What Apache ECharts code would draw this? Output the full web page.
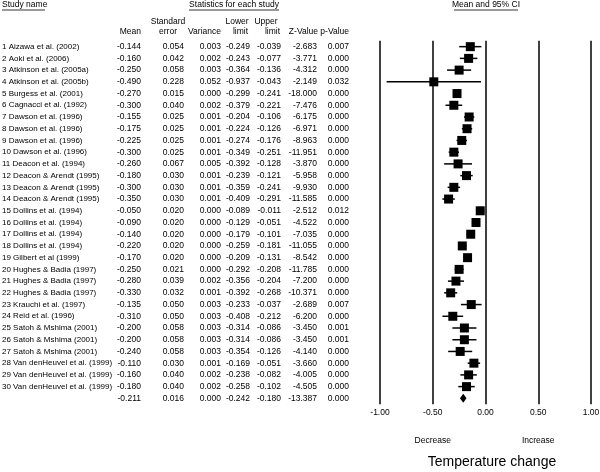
<!DOCTYPE html>
<html>
<head>
<meta charset="utf-8">
<script src="https://cdn.jsdelivr.net/npm/echarts@6/dist/echarts.min.js"></script>
<style>html,body{margin:0;padding:0;background:#fff}#c{width:600px;height:472px}</style>
</head>
<body>
<div id="c"></div>
<script>
const studyNames = [
 '1 Aizawa et al. (2002)','2 Aoki et al. (2006)','3 Atkinson et al. (2005a)','4 Atkinson et al. (2005b)',
 '5 Burgess et al. (2001)','6 Cagnacci et al. (1992)','7 Dawson et al. (1996)','8 Dawson et al. (1996)',
 '9 Dawson et al. (1996)','10 Dawson et al. (1996)','11 Deacon et al. (1994)','12 Deacon & Arendt (1995)',
 '13 Deacon & Arendt (1995)','14 Deacon & Arendt (1995)','15 Dollins et al. (1994)','16 Dollins et al. (1994)',
 '17 Dollins et al. (1994)','18 Dollins et al. (1994)','19 Gilbert et al (1999)','20 Hughes & Badia (1997)',
 '21 Hughes & Badia (1997)','22 Hughes & Badia (1997)','23 Krauchi et al. (1997)','24 Reid et al. (1996)',
 '25 Satoh & Mshima (2001)','26 Satoh & Mshima (2001)','27 Satoh & Mshima (2001)','28 Van denHeuvel et al. (1999)',
 '29 Van denHeuvel et al. (1999)','30 Van denHeuvel et al. (1999)',''
];
const means = [-0.144,-0.160,-0.250,-0.490,-0.270,-0.300,-0.155,-0.175,-0.225,-0.300,-0.260,-0.180,-0.300,-0.350,-0.050,-0.090,-0.140,-0.220,-0.170,-0.250,-0.280,-0.330,-0.135,-0.310,-0.200,-0.200,-0.240,-0.110,-0.160,-0.180,-0.211];
const stdErrs = [0.054,0.042,0.058,0.228,0.015,0.040,0.025,0.025,0.025,0.025,0.067,0.030,0.030,0.030,0.020,0.020,0.020,0.020,0.020,0.021,0.039,0.032,0.050,0.050,0.058,0.058,0.058,0.030,0.040,0.040,0.016];
const variances = [0.003,0.002,0.003,0.052,0.000,0.002,0.001,0.001,0.001,0.001,0.005,0.001,0.001,0.001,0.000,0.000,0.000,0.000,0.000,0.000,0.002,0.001,0.003,0.003,0.003,0.003,0.003,0.001,0.002,0.002,0.000];
const lowerLimits = [-0.249,-0.243,-0.364,-0.937,-0.299,-0.379,-0.204,-0.224,-0.274,-0.349,-0.392,-0.239,-0.359,-0.409,-0.089,-0.129,-0.179,-0.259,-0.209,-0.292,-0.356,-0.392,-0.233,-0.408,-0.314,-0.314,-0.354,-0.169,-0.238,-0.258,-0.242];
const upperLimits = [-0.039,-0.077,-0.136,-0.043,-0.241,-0.221,-0.106,-0.126,-0.176,-0.251,-0.128,-0.121,-0.241,-0.291,-0.011,-0.051,-0.101,-0.181,-0.131,-0.208,-0.204,-0.268,-0.037,-0.212,-0.086,-0.086,-0.126,-0.051,-0.082,-0.102,-0.180];
const zValues = [-2.683,-3.771,-4.312,-2.149,-18.000,-7.476,-6.175,-6.971,-8.963,-11.951,-3.870,-5.958,-9.930,-11.585,-2.512,-4.522,-7.035,-11.055,-8.542,-11.785,-7.200,-10.371,-2.689,-6.200,-3.450,-3.450,-4.140,-3.660,-4.005,-4.505,-13.387];
const pValues = [0.007,0.000,0.000,0.032,0.000,0.000,0.000,0.000,0.000,0.000,0.000,0.000,0.000,0.000,0.012,0.000,0.000,0.000,0.000,0.000,0.000,0.000,0.007,0.000,0.001,0.001,0.000,0.000,0.000,0.000,0.000];
const xTickValues = [-1, -0.5, 0, 0.5, 1];
const directionLabels = {'-0.5': 'Decrease', '0.5': 'Increase'};
const summaryIndex = 30;

const FONT = '"Liberation Sans", Arial, sans-serif';
const FS = 8.5;
const GL = 380, GW = 211, GT = 40.8, GH = 363.4;
const rowIds = studyNames.map((_, i) => String(i));

function colAxis(arr, rightX, fmt, align, fs) {
  return {
    type: 'category', gridIndex: 0, inverse: true, data: rowIds, position: 'left',
    offset: GL - rightX,
    axisLine: {show: false}, axisTick: {show: false}, splitLine: {show: false},
    axisLabel: {
      interval: 0, margin: 0, align: align || 'right', color: '#000', fontSize: fs || FS, fontFamily: FONT,
      padding: [3, 0, 0, 0], hideOverlap: false,
      formatter: (v, i) => fmt(arr[i])
    }
  };
}
const f3 = v => v.toFixed(3);

const chart = echarts.init(document.getElementById('c'), null, {renderer: 'canvas'});

const hdr = (text, x, y, align) => ({
  type: 'text', x: x, y: y,
  style: {text: text, fill: '#000', font: FS + 'px ' + FONT, textAlign: align || 'left', textVerticalAlign: 'middle'}
});
const uline = (x1, x2, y) => ({type: 'line', shape: {x1: x1, y1: y, x2: x2, y2: y}, style: {stroke: '#000', lineWidth: 0.8}});

chart.setOption({
  animation: false,
  backgroundColor: '#fff',
  grid: {left: GL, top: GT, width: GW, height: GH, containLabel: false, outerBoundsMode: 'none'},
  xAxis: [
    {
      type: 'value', min: -1, max: 1, interval: 0.5, position: 'bottom',
      axisLine: {show: false}, axisTick: {show: false},
      splitLine: {show: true, lineStyle: {color: '#000', width: 1.5}},
      axisLabel: {color: '#000', fontSize: FS, fontFamily: FONT, margin: 4, showMinLabel: true, showMaxLabel: true,
        formatter: v => v.toFixed(2)}
    },
    {
      type: 'value', min: -1, max: 1, interval: 0.5, position: 'bottom', offset: 28,
      axisLine: {show: false}, axisTick: {show: false}, splitLine: {show: false},
      axisLabel: {color: '#000', fontSize: FS, fontFamily: FONT, margin: 4, showMinLabel: true, showMaxLabel: true,
        formatter: v => directionLabels[String(v)] || ''}
    }
  ],
  yAxis: [
    {type: 'category', inverse: true, data: rowIds, axisLine: {show: false}, axisTick: {show: false},
     axisLabel: {show: false}, splitLine: {show: false}},
    colAxis(studyNames, 2, v => v, 'left', 8),
    colAxis(means, 141, f3),
    colAxis(stdErrs, 184, f3),
    colAxis(variances, 221, f3),
    colAxis(lowerLimits, 250, f3),
    colAxis(upperLimits, 281, f3),
    colAxis(zValues, 317, f3),
    colAxis(pValues, 349, f3)
  ],
  series: [{
    type: 'custom', xAxisIndex: 0, yAxisIndex: 0, clip: false,
    encode: {x: [0, 2, 3], y: 1},
    data: means.map((m, i) => [m, i, lowerLimits[i], upperLimits[i]]),
    renderItem: function (params, api) {
      const row = api.value(1);
      const c = api.coord([api.value(0), row]);
      const l = api.coord([api.value(2), row]);
      const u = api.coord([api.value(3), row]);
      if (params.dataIndex === summaryIndex) {
        const h = 4.5;
        return {type: 'polygon', shape: {points: [[l[0], c[1]], [c[0], c[1] - h], [u[0], c[1]], [c[0], c[1] + h]]},
          style: {fill: '#000'}};
      }
      const s = 9;
      return {type: 'group', children: [
        {type: 'line', shape: {x1: l[0], y1: c[1], x2: u[0], y2: c[1]}, style: {stroke: '#000', lineWidth: 1.5}},
        {type: 'rect', shape: {x: c[0] - s / 2, y: c[1] - s / 2, width: s, height: s}, style: {fill: '#000'}}
      ]};
    }
  }],
  graphic: [
    hdr('Study name', 2, 5), uline(2, 45, 10),
    hdr('Statistics for each study', 234, 5, 'center'), uline(189, 279, 10),
    hdr('Mean and 95% CI', 486, 5, 'center'), uline(454, 518, 10),
    hdr('Standard', 168, 21.5, 'center'), hdr('error', 168, 31.5, 'center'),
    hdr('Mean', 141, 31.5, 'right'),
    hdr('Variance', 221, 31.5, 'right'),
    hdr('Lower', 237, 21.5, 'center'), hdr('limit', 248, 31.5, 'right'),
    hdr('Upper', 266, 21.5, 'center'), hdr('limit', 280, 31.5, 'right'),
    hdr('Z-Value', 318, 31.5, 'right'),
    hdr('p-Value', 349, 31.5, 'right'),
    {type: 'text', x: 492, y: 462, style: {text: 'Temperature change', fill: '#000', font: '14px ' + FONT,
      textAlign: 'center', textVerticalAlign: 'middle'}}
  ]
});
</script>
</body>
</html>
